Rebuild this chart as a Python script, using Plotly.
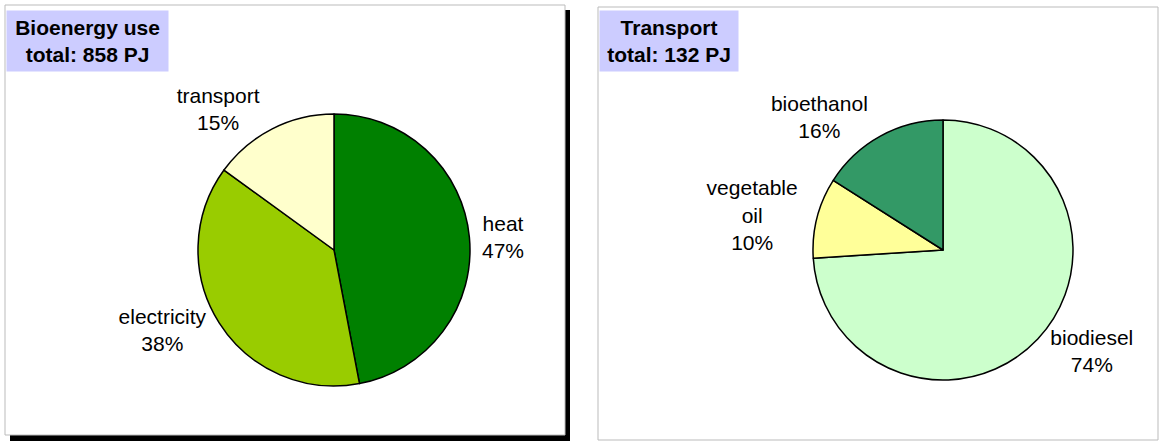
import plotly.graph_objects as go

W, H = 1160, 442

use_labels = ["heat", "electricity", "transport"]
use_values = [47, 38, 15]
use_colors = ["#008000", "#99CC00", "#FFFFCC"]

tr_labels = ["biodiesel", "vegetable<br>oil", "bioethanol"]
tr_values = [74, 10, 16]
tr_colors = ["#CCFFCC", "#FFFF99", "#339966"]

titles = ["Bioenergy use<br>total: 858 PJ", "Transport<br>total: 132 PJ"]

def px(x0, x1):
    return [x0 / W, x1 / W]

def py(y0, y1):  # from top pixel coords
    return [1 - y1 / H, 1 - y0 / H]

FONT = "Liberation Sans, Arial, sans-serif"

fig = go.Figure()

fig.add_trace(go.Pie(
    labels=use_labels, values=use_values, sort=False, direction="clockwise", rotation=0,
    marker=dict(colors=use_colors, line=dict(color="black", width=1.5)),
    textposition="outside", texttemplate="%{label}<br>%{percent:.0%}",
    textfont=dict(family=FONT, size=21, color="black"),
    domain=dict(x=px(198, 470), y=py(114, 386)), showlegend=False, hoverinfo="label+percent",
))
fig.add_trace(go.Pie(
    labels=tr_labels, values=tr_values, sort=False, direction="clockwise", rotation=0,
    marker=dict(colors=tr_colors, line=dict(color="black", width=1.5)),
    textposition="outside", texttemplate="%{label}<br>%{percent:.0%}",
    textfont=dict(family=FONT, size=21, color="black"),
    domain=dict(x=px(813, 1073), y=py(120, 380)), showlegend=False, hoverinfo="label+percent",
))

shapes = [
    # left panel shadow
    dict(type="rect", xref="paper", yref="paper", x0=10 / W, x1=570 / W, y0=1 - 441 / H, y1=1 - 10 / H,
         fillcolor="black", line=dict(width=0), layer="below"),
    dict(type="rect", xref="paper", yref="paper", x0=5 / W, x1=565 / W, y0=1 - 435 / H, y1=1 - 5 / H,
         fillcolor="white", line=dict(color="#BBBBBB", width=1), layer="below"),
    # right panel
    dict(type="rect", xref="paper", yref="paper", x0=598 / W, x1=1158 / W, y0=1 - 440 / H, y1=1 - 7 / H,
         fillcolor="white", line=dict(color="#BBBBBB", width=1), layer="below"),
]

annotations = [
    dict(text="<b>" + titles[0] + "</b>", xref="paper", yref="paper", x=6 / W, y=1 - 10 / H,
         xanchor="left", yanchor="top", showarrow=False, width=161, height=60, bgcolor="#CCCCFF",
         borderpad=0, font=dict(family=FONT, size=21, color="black"), align="center"),
    dict(text="<b>" + titles[1] + "</b>", xref="paper", yref="paper", x=599 / W, y=1 - 10 / H,
         xanchor="left", yanchor="top", showarrow=False, width=138, height=60, bgcolor="#CCCCFF",
         borderpad=0, font=dict(family=FONT, size=21, color="black"), align="center"),
]

fig.update_layout(
    width=W, height=H, margin=dict(l=0, r=0, t=0, b=0),
    paper_bgcolor="white", plot_bgcolor="white",
    shapes=shapes, annotations=annotations,
    font=dict(family=FONT),
)

fig.write_html("out.html", config={"displayModeBar": False},
               post_script="document.body.style.margin='0';document.body.style.overflow='hidden';")
